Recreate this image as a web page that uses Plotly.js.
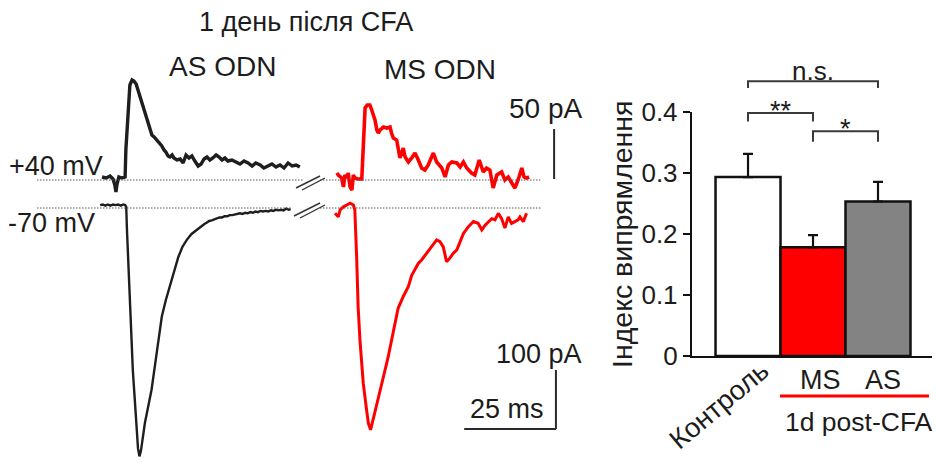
<!DOCTYPE html>
<html>
<head>
<meta charset="utf-8">
<script src="https://cdn.plot.ly/plotly-3.0.1.min.js"></script>
<style>
  html, body { margin: 0; padding: 0; background: #fff; }
  #chart { width: 937px; height: 463px; }
</style>
</head>
<body>
<div id="chart"></div>
<script>
// ---- Whole-cell current sweeps (time in ms, current in pA) ----
// AS ODN, holding +40 mV
const asUpT = [0, 1.1, 2.2, 3.0, 3.5, 3.8, 4.1, 4.6, 5.4, 6.3, 6.5, 7.1, 7.6, 8.2, 8.7, 9.3, 9.8, 10.4, 10.9, 11.4,
  12.0, 12.5, 13.1, 13.6, 14.2, 14.7, 15.3, 15.8, 16.3, 16.9, 17.4, 18.0, 18.5, 19.1, 19.6, 20.4, 21.3, 22.1, 22.9, 23.7,
  24.5, 25.3, 26.2, 27.0, 27.8, 28.6, 29.4, 30.2, 31.1, 31.9, 32.7, 33.5, 34.3, 35.4, 36.5, 37.6, 38.7, 39.8, 40.9, 41.9,
  43.1, 44.1, 45.2, 46.3, 47.4, 48.5, 49.6, 50.7, 51.8, 52.9, 53.9];
const asUpI = [3, 2, 4, 1, -5, -12, -4, 3, 2, 3, 30, 70, 95, 100, 99, 96, 90, 83, 79, 73,
  65, 58, 50, 45, 43, 41, 38, 36, 34, 30, 28, 24, 23, 25, 22, 20, 21, 17, 25, 22,
  24, 19, 14, 16, 21, 23, 20, 22, 25, 23, 20, 22, 19, 20, 18, 16, 19, 17, 14, 17,
  15, 12, 14, 16, 13, 15, 12, 17, 14, 15, 13];

// AS ODN, holding -70 mV
const asDnT = [-0.5, 0.2, 0.9, 1.6, 2.3, 3.0, 3.7, 4.4, 5.1, 5.8, 6.3, 6.6, 6.8, 7.6, 8.4, 9.3, 9.8, 10.2, 10.6, 11.7,
  13.5, 14.9, 16.3, 17.4, 18.5, 19.6, 20.8, 21.9, 23.1, 24.4, 25.8, 26.5, 27.2, 27.9, 28.5, 29.2, 29.9, 30.6, 31.3, 32.0,
  32.7, 33.4, 34.1, 34.8, 35.5, 36.2, 36.9, 37.6, 38.3, 39.0, 39.7, 40.4, 41.1, 41.8, 42.5, 43.2, 43.9, 44.6, 45.3, 46.0,
  46.7, 47.4, 48.1, 48.8, 49.5, 50.2, 50.9, 51.4];
const asDnI = [5, 6, 4, 6, 4, 6, 5, 6, 4, 6, 5, 2, -37, -156, -275, -359, -407, -421, -412, -364,
  -308, -246, -184, -156, -133, -106, -83, -66, -54, -44, -37, -33, -30, -27, -25, -22, -21, -19, -18, -16,
  -16, -14, -14, -12, -12, -11, -11, -9, -10, -8, -9, -7, -8, -6, -7, -5, -6, -5, -6, -4,
  -5, -3, -4, -3, -4, -1, -3, -2];

// MS ODN, holding +40 mV
const msUpT = [0.5, 0.9, 1.8, 2.3, 2.7, 3.2, 3.6, 4.1, 4.6, 5.0, 5.4, 6.3, 7.3, 7.7, 8.2, 8.8, 9.5, 10.0, 10.4, 10.9,
  11.4, 11.8, 12.3, 13.2, 14.1, 15.0, 15.4, 15.9, 16.8, 17.2, 17.7, 18.2, 18.6, 19.1, 20.0, 20.9, 21.8, 22.7, 23.6, 24.5,
  25.4, 26.8, 27.7, 29.1, 30.0, 30.9, 31.8, 33.2, 34.1, 35.0, 35.9, 37.2, 38.1, 39.3, 40.4, 41.3, 42.2, 43.1, 44.1, 45.4,
  46.3, 47.2, 48.1, 49.0, 49.9, 50.9, 51.5, 52.2, 52.9];
const msUpI = [7, 5, 2, -7, 5, 2, 7, -7, -10, 5, 2, 1, 1, 40, 72, 75, 75, 70, 65, 60,
  50, 47, 50, 53, 52, 53, 47, 42, 40, 33, 22, 27, 32, 23, 18, 22, 27, 20, 12, 10,
  15, 27, 18, 12, 3, 15, 18, 17, 13, 18, 12, 7, 5, 20, 8, 12, 10, -8, 5, 8,
  0, 3, -3, -8, 0, 12, 3, 2, 3];

// MS ODN, holding -70 mV
const msDnT = [0, 0.9, 1.4, 2.3, 3.2, 4.1, 5.0, 5.4, 5.9, 6.3, 6.8, 7.7, 8.6, 9.1, 9.7, 10.4, 11.8, 13.2, 14.5, 15.4,
  16.3, 17.2, 18.6, 20.0, 20.9, 21.8, 22.7, 23.6, 25.0, 26.3, 27.7, 28.6, 29.5, 30.4, 31.3, 32.2, 33.2, 34.1, 35.0, 36.3,
  37.7, 39.0, 40.0, 40.9, 41.8, 42.7, 43.6, 44.5, 45.4, 46.3, 47.2, 48.1, 49.0, 49.9, 50.4, 51.3, 52.2];
const msDnI = [-9, -15, -3, 2, 5, 8, 5, -3, -83, -167, -224, -297, -342, -365, -376, -359, -320, -286, -252, -224,
  -195, -170, -150, -133, -114, -105, -94, -88, -77, -66, -54, -57, -66, -91, -85, -77, -71, -57, -43, -32,
  -23, -26, -37, -29, -23, -18, -20, -9, -18, -34, -15, -26, -23, -20, -15, -23, -9];

// ---- Rectification index (mean + SEM) ----
const groups = ['Контроль', 'MS', 'AS'];
const rectIndex = [0.293, 0.178, 0.253];
const rectSem = [0.038, 0.020, 0.032];
const barColors = ['#ffffff', '#ff0000', '#838383'];

// Scale-bar sizes
const barTimeMs = 25, barUpPA = 50, barDnPA = 100;

// ---- Page geometry (pixels) ----
const W = 937, H = 463;
const fx = p => p / W;
const fy = p => 1 - p / H;

const PX_PER_MS = 3.67;
const AS_X0 = 102, MS_X0 = 335;       // where each sweep begins
const UP_Y0 = 180, UP_PX = 1.0;       // +40 mV baseline, px per pA
const DN_Y0 = 208, DN_PX = 0.59;      // -70 mV baseline, px per pA

// Bar panel frame
const B_L = 692, B_R = 932, B_BOT = 356, B_TOP = 111.7;
const bxRange = [-0.862, 2.831], byRange = [0, 0.4];
const bx = i => fx(B_L) + (i - bxRange[0]) / (bxRange[1] - bxRange[0]) * (fx(B_R) - fx(B_L));
const by = v => fy(B_BOT) + (v - byRange[0]) / (byRange[1] - byRange[0]) * (fy(B_TOP) - fy(B_BOT));

const FONT = 'Liberation Sans, Arial, Helvetica, sans-serif';
const INK = '#1c1c1c';

const hidden = { visible: false, fixedrange: true };

const traces = [
  { x: asUpT, y: asUpI, xaxis: 'x', yaxis: 'y', mode: 'lines',
    line: { color: '#1e1e1e', width: 3.4 }, hoverinfo: 'skip' },
  { x: asDnT, y: asDnI, xaxis: 'x', yaxis: 'y2', mode: 'lines',
    line: { color: '#1e1e1e', width: 2.4 }, hoverinfo: 'skip' },
  { x: msUpT, y: msUpI, xaxis: 'x2', yaxis: 'y', mode: 'lines',
    line: { color: '#ff0000', width: 3.6 }, hoverinfo: 'skip' },
  { x: msDnT, y: msDnI, xaxis: 'x2', yaxis: 'y2', mode: 'lines',
    line: { color: '#ff0000', width: 3 }, hoverinfo: 'skip' },
  { type: 'bar', x: groups, y: rectIndex, xaxis: 'x3', yaxis: 'y3', width: 1,
    marker: { color: barColors, line: { color: '#111', width: 2.5 } },
    error_y: { type: 'data', symmetric: false, array: rectSem, arrayminus: [0, 0, 0],
      color: '#111', thickness: 2.2, width: 5 },
    hoverinfo: 'skip' }
];

const dotted = { color: '#555', width: 1, dash: '1.5px,1.5px' };
const ink2 = { color: '#2a2a2a', width: 2 };
const slash = { color: '#333', width: 1.4 };

const shapes = [
  // holding-current baselines
  { type: 'line', xref: 'x', yref: 'y', x0: -17.7, x1: 54.8, y0: 0, y1: 0, line: dotted },
  { type: 'line', xref: 'x2', yref: 'y', x0: -4.1, x1: 56.1, y0: 0, y1: 0, line: dotted },
  { type: 'line', xref: 'x', yref: 'y2', x0: -17.7, x1: 51.8, y0: 0, y1: 0, line: dotted },
  { type: 'line', xref: 'x2', yref: 'y2', x0: -4.1, x1: 56.1, y0: 0, y1: 0, line: dotted },
  // axis breaks
  { type: 'line', xref: 'paper', yref: 'paper', x0: fx(296), y0: fy(188), x1: fx(320), y1: fy(176), line: slash },
  { type: 'line', xref: 'paper', yref: 'paper', x0: fx(302), y0: fy(190), x1: fx(325), y1: fy(178), line: slash },
  { type: 'line', xref: 'paper', yref: 'paper', x0: fx(294), y0: fy(216), x1: fx(320), y1: fy(203), line: slash },
  { type: 'line', xref: 'paper', yref: 'paper', x0: fx(300), y0: fy(218), x1: fx(325), y1: fy(205), line: slash },
  // scale bars
  { type: 'line', xref: 'x2', yref: 'y', x0: 59.7, x1: 59.7, y0: 1, y1: 1 + barUpPA, line: ink2 },
  { type: 'line', xref: 'x2', yref: 'y2', x0: 60.2, x1: 60.2, y0: -374.6, y1: -374.6 + barDnPA, line: ink2 },
  { type: 'line', xref: 'x2', yref: 'y2', x0: 60.2 - barTimeMs, x1: 60.2, y0: -374.6, y1: -374.6, line: ink2 },
  // significance brackets
  { type: 'path', xref: 'paper', yref: 'paper',
    path: `M${bx(0)},${by(0.439)} L${bx(0)},${by(0.450)} L${bx(2)},${by(0.450)} L${bx(2)},${by(0.439)}`,
    line: { color: '#3a3a3a', width: 2 } },
  { type: 'path', xref: 'paper', yref: 'paper',
    path: `M${bx(0)},${by(0.384)} L${bx(0)},${by(0.398)} L${bx(1)},${by(0.398)} L${bx(1)},${by(0.384)}`,
    line: { color: '#3a3a3a', width: 2 } },
  { type: 'path', xref: 'paper', yref: 'paper',
    path: `M${bx(1)},${by(0.351)} L${bx(1)},${by(0.368)} L${bx(2)},${by(0.368)} L${bx(2)},${by(0.351)}`,
    line: { color: '#3a3a3a', width: 2 } },
  // group underline for post-CFA groups
  { type: 'line', xref: 'paper', yref: 'paper', x0: fx(780), x1: fx(929), y0: fy(396), y1: fy(396),
    line: { color: '#ff0000', width: 3 } }
];

const txt = (text, x, y, size, extra) => Object.assign({
  text, x, y, xref: 'paper', yref: 'paper', showarrow: false,
  xanchor: 'center', yanchor: 'middle', font: { family: FONT, size, color: INK }
}, extra || {});

const annotations = [
  txt('1 день після CFA', fx(306), fy(22), 27),
  txt('AS ODN', fx(222), fy(67), 28),
  txt('MS ODN', fx(440), fy(69), 28),
  txt('+40 mV', fx(7), fy(166), 27, { xanchor: 'left' }),
  txt('-70 mV', fx(6), fy(223), 27, { xanchor: 'left' }),
  txt('50 pA', fx(584), fy(109), 28, { xanchor: 'right' }),
  txt('100 pA', fx(584), fy(354), 27, { xanchor: 'right' }),
  txt('25 ms', fx(507), fy(409), 27),
  txt('n.s.', bx(1), fy(71), 26),
  txt('**', bx(0.5), fy(111), 27),
  txt('*', bx(1.5), fy(129), 27),
  txt('Індекс випрямлення', fx(622), fy(234), 28.5, { textangle: -90 }),
  txt('Контроль', 0, fy(405), 27.5, { xref: 'x3', x: groups[0], textangle: -40, xshift: -30 }),
  txt('MS', 0, fy(380), 27, { xref: 'x3', x: groups[1], xshift: 7 }),
  txt('AS', 0, fy(380), 27, { xref: 'x3', x: groups[2], xshift: 5 }),
  txt('1d post-CFA', fx(859), fy(422), 26.5)
];

const layout = {
  width: W, height: H, autosize: false,
  margin: { l: 0, r: 0, t: 0, b: 0, pad: 0 },
  paper_bgcolor: '#ffffff', plot_bgcolor: 'rgba(0,0,0,0)',
  showlegend: false, bargap: 0,
  xaxis: Object.assign({ domain: [0, 1], anchor: 'y',
    range: [-AS_X0 / PX_PER_MS, (W - AS_X0) / PX_PER_MS] }, hidden),
  xaxis2: Object.assign({ domain: [0, 1], anchor: 'y',
    range: [-MS_X0 / PX_PER_MS, (W - MS_X0) / PX_PER_MS] }, hidden),
  yaxis: Object.assign({ domain: [0, 1], anchor: 'x',
    range: [(UP_Y0 - H) / UP_PX, UP_Y0 / UP_PX] }, hidden),
  yaxis2: Object.assign({ domain: [0, 1], anchor: 'x',
    range: [(DN_Y0 - H) / DN_PX, DN_Y0 / DN_PX] }, hidden),
  xaxis3: {
    domain: [fx(B_L), fx(B_R)], anchor: 'y3', type: 'category', range: bxRange,
    showline: true, linecolor: '#111', linewidth: 2.2, showticklabels: false, ticks: '',
    showgrid: false, zeroline: false, fixedrange: true
  },
  yaxis3: {
    domain: [fy(B_BOT), fy(B_TOP)], anchor: 'x3', range: byRange,
    tickmode: 'array', tickvals: [0, 0.1, 0.2, 0.3, 0.4], ticktext: ['0', '0.1', '0.2', '0.3', '0.4'],
    ticks: 'outside', ticklen: 7, tickwidth: 2, tickcolor: '#111',
    showline: true, linecolor: '#111', linewidth: 2.2,
    showgrid: false, zeroline: false, fixedrange: true,
    tickfont: { family: FONT, size: 26, color: INK }
  },
  shapes, annotations
};

Plotly.newPlot('chart', traces, layout, { staticPlot: true, displayModeBar: false });
</script>
</body>
</html>
